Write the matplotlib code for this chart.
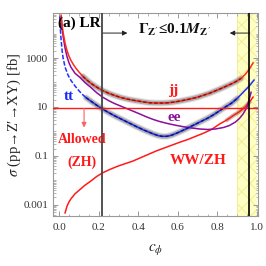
import numpy as np
import matplotlib
matplotlib.use("Agg")
import matplotlib.pyplot as plt

plt.rcParams['font.family'] = ['Liberation Serif', 'DejaVu Serif']
plt.rcParams['mathtext.fontset'] = 'stix'
plt.rcParams['hatch.linewidth'] = 0.6

# ---- data: c_phi and log10(sigma / fb) ----
c_jj = [0.01, 0.015, 0.02, 0.03, 0.04, 0.05, 0.06, 0.07, 0.085, 0.10, 0.12, 0.14, 0.16, 0.18, 0.20, 0.22,
        0.25, 0.28, 0.31, 0.34, 0.37, 0.40, 0.43, 0.46, 0.49, 0.52, 0.55, 0.58, 0.61, 0.64, 0.67, 0.70,
        0.73, 0.76, 0.79, 0.82, 0.85, 0.88, 0.90, 0.92, 0.94, 0.96, 0.98]
lg_jj = [4.75, 4.35, 4.05, 3.6, 3.3, 3.07, 2.9, 2.76, 2.58, 2.43, 2.25, 2.1, 1.97, 1.86, 1.76, 1.67,
         1.56, 1.47, 1.39, 1.33, 1.28, 1.24, 1.2, 1.17, 1.16, 1.16, 1.17, 1.2, 1.24, 1.29, 1.34, 1.4,
         1.48, 1.56, 1.66, 1.76, 1.87, 1.98, 2.07, 2.17, 2.33, 2.53, 2.8]

c_ee = [0.01, 0.015, 0.02, 0.03, 0.04, 0.05, 0.06, 0.08, 0.106, 0.13, 0.16, 0.19, 0.22, 0.25, 0.28, 0.31,
        0.34, 0.37, 0.40, 0.44, 0.475, 0.51, 0.55, 0.59, 0.63, 0.67, 0.71, 0.75, 0.79, 0.83, 0.86, 0.89,
        0.91, 0.93, 0.95, 0.97]
lg_ee = [4.7, 4.2, 3.9, 3.4, 3.05, 2.8, 2.62, 2.38, 2.2, 2.0, 1.8, 1.58, 1.4, 1.26, 1.14, 1.04,
         0.94, 0.84, 0.74, 0.6, 0.49, 0.4, 0.32, 0.25, 0.19, 0.14, 0.1, 0.08, 0.1, 0.16, 0.24, 0.38,
         0.52, 0.72, 1.0, 1.6]

c_tt = [0.003, 0.006, 0.01, 0.015, 0.02, 0.03, 0.045, 0.06, 0.08, 0.096, 0.115, 0.136, 0.16, 0.19, 0.22,
        0.25, 0.28, 0.31, 0.35, 0.39, 0.43, 0.475, 0.50, 0.52, 0.545, 0.57, 0.60, 0.63, 0.66, 0.69, 0.72,
        0.75, 0.78, 0.81, 0.84, 0.87, 0.90, 0.93, 0.96, 0.985]
lg_tt = [4.7, 4.2, 3.75, 3.3, 3.0, 2.63, 2.3, 2.08, 1.86, 1.7, 1.53, 1.38, 1.24, 1.07, 0.91,
         0.77, 0.64, 0.52, 0.36, 0.2, 0.05, -0.1, -0.17, -0.2, -0.2, -0.15, -0.05, 0.06, 0.18, 0.3, 0.42,
         0.54, 0.68, 0.84, 1.0, 1.15, 1.35, 1.6, 1.85, 2.1]

c_ww = [0.03, 0.04, 0.05, 0.06, 0.08, 0.106, 0.13, 0.16, 0.19, 0.22, 0.26, 0.30, 0.34, 0.37, 0.41, 0.45,
        0.49, 0.53, 0.57, 0.61, 0.65, 0.69, 0.73, 0.77, 0.81, 0.85, 0.88, 0.91, 0.94, 0.96, 0.98]
lg_ww = [-3.33, -3.05, -2.88, -2.75, -2.55, -2.37, -2.2, -2.03, -1.84, -1.69, -1.54, -1.41, -1.3, -1.22,
         -1.08, -0.94, -0.8, -0.68, -0.56, -0.44, -0.33, -0.2, -0.07, 0.08, 0.3, 0.48, 0.65, 0.8, 1.0,
         1.18, 1.4]

limit_xs = 8.7          # horizontal bound [fb]
c_lep = 0.219           # vertical line (left)
c_width = 0.96          # vertical line (right)
band = (0.90, 1.0)      # yellow band

xticks = [0.0, 0.2, 0.4, 0.6, 0.8, 1.0]
xticklabels = ['0.0', '0.2', '0.4', '0.6', '0.8', '1.0']
yticks = [1e-3, 1e-1, 1e1, 1e3]
yticklabels = ['0.001', '0.1', '10', '1000']

s_jj = 10.0 ** np.array(lg_jj)
s_ee = 10.0 ** np.array(lg_ee)
s_tt = 10.0 ** np.array(lg_tt)
s_ww = 10.0 ** np.array(lg_ww)

# ---- figure ----
fig = plt.figure(figsize=(2.66, 2.66), dpi=100)
ax = fig.add_axes([0.200, 0.188, 0.770, 0.763])
ax.set_yscale('log')
ax.set_xlim(-0.03, 1.005)
ax.set_ylim(3.5e-4, 6.9e4)

# yellow band
ax.axvspan(band[0], band[1], facecolor='#ffffc4', edgecolor='#efe98c', hatch='xx', lw=0, zorder=0)
ax.axvline(band[0], color='#eeea9a', lw=0.6, zorder=0.5)

def seg(c, s, lo, hi):
    c = np.asarray(c); s = np.asarray(s)
    m = (c >= lo) & (c <= hi)
    return c[m], s[m]

def glow(x, y):
    ax.plot(x, y, color='#9a9a9a', lw=5.0, alpha=0.25, solid_capstyle='round', zorder=2)
    ax.plot(x, y, color='#808080', lw=3.4, alpha=0.55, solid_capstyle='round', zorder=2)

# WW/ZH
ax.plot(c_ww, s_ww, color='#ff1a1a', lw=1.1, zorder=3)
gx, gy = seg(c_ww, s_ww, 0.85, 0.96)
ax.plot(gx, gy, color='#6b3a2a', lw=3.0, alpha=0.35, zorder=2)

# ee
ax.plot(c_ee, s_ee, color='#8a0f9a', lw=1.1, zorder=3)

# tt
gx, gy = seg(c_tt, s_tt, 0.0, 0.14)
ax.plot(gx, gy, color='#2030ff', lw=1.1, dashes=(3, 1.2), zorder=3)
gx, gy = seg(c_tt, s_tt, 0.13, 1.0)
ax.plot(gx, gy, color='#2030ff', lw=1.1, zorder=3)
gx, gy = seg(c_tt, s_tt, 0.13, 0.90)
glow(gx, gy)
ax.plot(gx, gy, color='#10108a', lw=1.0, dashes=(2.5, 1.5), zorder=4)

# jj
ax.plot(c_jj, s_jj, color='#ff2a1a', lw=1.1, zorder=3)
gx, gy = seg(c_jj, s_jj, 0.12, 0.93)
glow(gx, gy)
ax.plot(gx, gy, color='#9a0c0c', lw=1.0, dashes=(2.5, 1.5), zorder=4)

# bound line and vertical lines
ax.axhline(limit_xs, color='#ff1a1a', lw=1.0, zorder=5)
ax.axvline(c_lep, color='#444444', lw=1.3, zorder=5)
ax.axvline(c_width, color='black', lw=1.2, zorder=5)

# arrows
ax.annotate('', xy=(0.126, 10**0.16), xytext=(0.126, limit_xs),
            arrowprops=dict(arrowstyle='-|>', color='#ff6060', lw=0.8,
                            mutation_scale=7, shrinkA=0, shrinkB=0), zorder=6)
ax.annotate('', xy=(0.345, 10**4.02), xytext=(c_lep, 10**4.02),
            arrowprops=dict(arrowstyle='-|>', color='#222222', lw=0.7,
                            mutation_scale=7, shrinkA=0, shrinkB=0))
ax.annotate('', xy=(0.862, 10**4.02), xytext=(c_width, 10**4.02),
            arrowprops=dict(arrowstyle='-|>', color='#222222', lw=0.7,
                            mutation_scale=7, shrinkA=0, shrinkB=0))

# texts
fs = 11
ax.text(-0.008, 10**4.41, '(a) LR', fontsize=fs, fontweight='bold', ha='left', va='center', zorder=7)
ax.text(0.40, 10**4.14, r"$\mathbf{\Gamma}_{\mathbf{Z'}}$≤0.1$\mathbfit{M}_{\mathbf{Z'}}$", fontsize=fs,
        fontweight='bold', ha='left', va='center', color='#111111')
ax.text(0.05, 10**1.41, 'tt', fontsize=fs, fontweight='bold', color='#1a2aff', ha='center', va='center')
ax.text(0.576, 10**1.69, 'jj', fontsize=fs, fontweight='bold', color='#ff1a1a', ha='center', va='center')
ax.text(0.58, 10**0.55, 'ee', fontsize=fs, fontweight='bold', color='#8a0f9a', ha='center', va='center')
ax.text(0.70, 10**-1.2, 'WW/ZH', fontsize=fs, fontweight='bold', color='#ff1a1a', ha='center', va='center')
ax.text(0.116, 10**-0.35, 'Allowed', fontsize=10, fontweight='bold', color='#ff1a1a', ha='center', va='center')
ax.text(0.116, 10**-1.24, '(ZH)', fontsize=10, fontweight='bold', color='#ff1a1a', ha='center', va='center')

# axes styling
frame_col = '#999999'
for sp in ax.spines.values():
    sp.set_color(frame_col)
    sp.set_linewidth(0.8)
ax.set_xticks(xticks)
ax.set_xticklabels(xticklabels)
ax.set_xticks(np.arange(0.0, 1.001, 0.05), minor=True)
ax.set_yticks(yticks)
ax.set_yticklabels(yticklabels)
minor_y = [m * 10.0**k for k in range(-4, 5) for m in range(1, 10)]
minor_y = [v for v in minor_y if v not in yticks]
ax.set_yticks(minor_y, minor=True)
ax.set_yticklabels([], minor=True)
ax.set_ylim(3.5e-4, 6.9e4)
ax.tick_params(which='both', direction='in', top=True, right=True, colors=frame_col,
               labelcolor='#333333', labelsize=8)
ax.tick_params(which='major', length=3.5, width=0.7)
ax.tick_params(which='minor', length=1.8, width=0.5)
ax.tick_params(axis='x', pad=5)

ax.set_ylabel(r"$\sigma$ (pp→Z′→XY) [fb]", fontsize=10.5, color='#222222', labelpad=0)
ax.set_xlabel(r"$c_\phi$", fontsize=11, color='#222222', labelpad=7)

fig.savefig('out.png', dpi=100)
